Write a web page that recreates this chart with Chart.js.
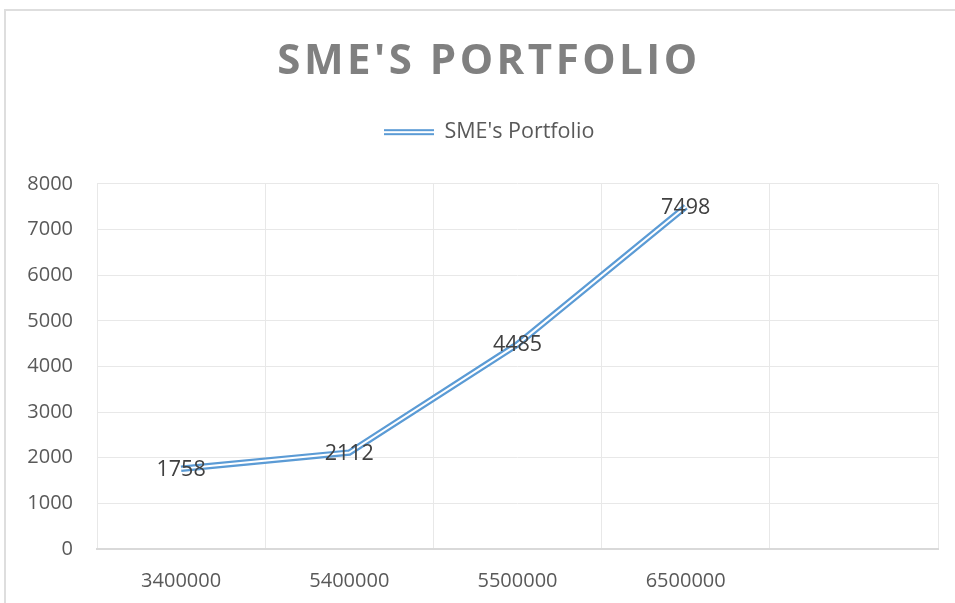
<!DOCTYPE html>
<html>
<head>
<meta charset="utf-8">
<script src="https://cdn.jsdelivr.net/npm/chart.js@4.4.0/dist/chart.umd.min.js"></script>
<style>
html, body { margin: 0; padding: 0; background: #fff; overflow: hidden; }
#frame { position: absolute; left: 4px; top: 9px; width: 1200px; height: 900px; border: 2px solid #dedede; }
#wrap { position: absolute; left: 0; top: 0; width: 955px; height: 603px; }
</style>
</head>
<body>
<div id="frame"></div>
<div id="wrap"><canvas id="chart" width="955" height="603"></canvas></div>
<script>
var categories = ['3400000', '5400000', '5500000', '6500000', ''];
var portfolio = [1758, 2112, 4485, 7498, null];
var yTicks = [0, 1000, 2000, 3000, 4000, 5000, 6000, 7000, 8000];

var BLUE = '#5B9BD5';
var FONT = "'Open Sans', sans-serif";

// legend sample: double line like the excel compound line
var sample = document.createElement('canvas');
sample.width = 50;
sample.height = 8;
var sctx = sample.getContext('2d');
sctx.fillStyle = BLUE;
sctx.fillRect(0, 1, 50, 6);
sctx.fillStyle = '#fff';
sctx.fillRect(0, 3, 50, 2);

// centre the value on each point
var pointLabels = {
	id: 'pointLabels',
	afterDatasetsDraw: function(chart) {
		var ctx = chart.ctx;
		var meta = chart.getDatasetMeta(0);
		ctx.save();
		ctx.font = '21.5px ' + FONT;
		ctx.fillStyle = '#404040';
		ctx.textAlign = 'center';
		ctx.textBaseline = 'middle';
		meta.data.forEach(function(pt, i) {
			if (portfolio[i] == null) return;
			ctx.fillText(String(portfolio[i]), pt.x, pt.y + 1);
		});
		ctx.restore();
	}
};

// title/legend are centred on the full excel chart, which is wider than the shot
var boxTweaks = {
	id: 'boxTweaks',
	beforeLayout: function(chart) {
		var tb = chart.titleBlock;
		if (tb && !tb._spaced) {
			var orig = tb.draw.bind(tb);
			tb.draw = function() {
				chart.ctx.save();
				chart.ctx.letterSpacing = '3.5px';
				chart.ctx.translate(20, 0);
				orig();
				chart.ctx.restore();
			};
			tb._spaced = true;
		}
		var lg = chart.legend;
		if (lg && !lg._tall) {
			var fit = lg.fit.bind(lg);
			lg.fit = function() {
				fit();
				this.height += 31;
			};
			var draw = lg.draw.bind(lg);
			lg.draw = function() {
				chart.ctx.save();
				chart.ctx.translate(20, 0);
				draw();
				chart.ctx.restore();
			};
			lg._tall = true;
		}
	}
};

var chart = new Chart(document.getElementById('chart'), {
	type: 'line',
	data: {
		labels: categories,
		datasets: [{
			label: "SME's Portfolio",
			data: portfolio,
			borderColor: BLUE,
			backgroundColor: BLUE,
			borderWidth: 6.5,
			borderCapStyle: 'butt',
			pointRadius: 0,
			pointStyle: sample,
			tension: 0,
			order: 2
		}, {
			label: 'inner',
			data: portfolio,
			borderColor: '#fff',
			borderWidth: 2,
			borderCapStyle: 'butt',
			pointRadius: 0,
			tension: 0,
			order: 1
		}]
	},
	options: {
		responsive: false,
		animation: false,
		layout: { padding: { left: 0, right: 17, top: 0, bottom: 0 } },
		plugins: {
			title: {
				display: true,
				text: "SME'S PORTFOLIO",
				color: '#808080',
				font: { family: FONT, size: 42, weight: 'bold' },
				padding: { top: 37, bottom: 16 }
			},
			legend: {
				display: true,
				labels: {
					usePointStyle: true,
					pointStyleWidth: 50,
					color: '#595959',
					font: { family: FONT, size: 21.5 },
					padding: 18,
					filter: function(item) { return item.datasetIndex === 0; }
				}
			},
			tooltip: { enabled: false }
		},
		scales: {
			x: {
				offset: true,
				grid: { color: '#e8e8e8', offset: true, drawTicks: false },
				border: { color: '#d9d9d9', width: 2 },
				ticks: { color: '#595959', font: { family: FONT, size: 20 }, padding: 20, maxRotation: 0 },
				afterFit: function(scale) { scale.height = 54; }
			},
			y: {
				min: 0,
				max: 8000,
				afterBuildTicks: function(scale) {
					scale.ticks = yTicks.map(function(v) { return { value: v }; });
				},
				grid: { color: '#e8e8e8', drawTicks: false },
				border: { display: false },
				ticks: {
					color: '#595959',
					font: { family: FONT, size: 20 },
					padding: 24,
					callback: function(v) { return String(v); }
				},
				afterFit: function(scale) { scale.width = 97; }
			}
		}
	},
	plugins: [pointLabels, boxTweaks]
});
</script>
</body>
</html>
